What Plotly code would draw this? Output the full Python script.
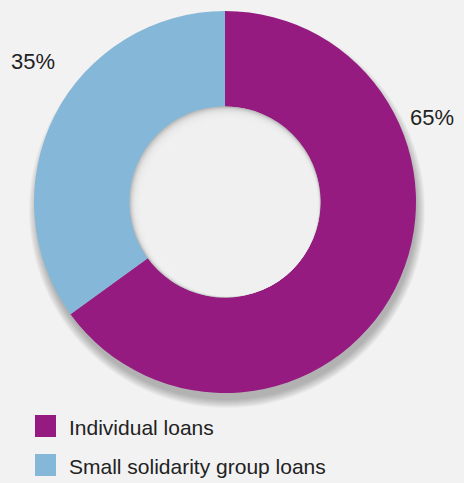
import plotly.graph_objects as go

# Loan portfolio split
labels = ["Individual loans", "Small solidarity group loans"]
values = [65, 35]
colors = ["#951b80", "#84b7d8"]
pct_text = ["65%", "35%"]

W, H = 464, 483
BG = "#f2f2f2"
cx, cy, r = 225, 202, 191  # donut centre / radius in pixels
hole = 0.5
ri = r * hole


def px_x(x):
    return x / W


def px_y(y):
    return 1 - y / H


def circle(x, y, rad, fill, layer="below"):
    return dict(
        type="circle", xref="paper", yref="paper", layer=layer,
        x0=px_x(x - rad), x1=px_x(x + rad),
        y0=px_y(y + rad), y1=px_y(y - rad),
        fillcolor=fill, line=dict(width=0),
    )


fig = go.Figure()
fig.add_trace(go.Pie(
    labels=labels,
    values=values,
    hole=hole,
    sort=False,
    direction="clockwise",
    rotation=0,
    marker=dict(colors=colors, line=dict(width=0)),
    textinfo="none",
    hoverinfo="label+percent",
    showlegend=False,
    domain=dict(x=[px_x(cx - r), px_x(cx + r)], y=[px_y(cy + r), px_y(cy - r)]),
))

shapes = []
# soft drop shadow beneath the ring
for i in range(9):
    shapes.append(circle(cx + 2, cy + 8, r - 1 + i, "rgba(0,0,0,0.03)"))

# inset shadow inside the hole (upper-left edge)
shapes.append(circle(cx, cy, ri, "#bebebe", layer="above"))
for i in range(1, 15):
    t = i * 0.65
    shapes.append(circle(cx + t * 0.6, cy + t * 0.8, ri - t,
                         "rgba(242,242,242,0.3)", layer="above"))

annotations = [
    dict(text=pct_text[1], x=px_x(32.5), y=px_y(61), xref="paper", yref="paper",
         xanchor="center", yanchor="middle", showarrow=False,
         font=dict(size=22, color="#222")),
    dict(text=pct_text[0], x=px_x(432), y=px_y(117), xref="paper", yref="paper",
         xanchor="center", yanchor="middle", showarrow=False,
         font=dict(size=22, color="#222")),
]

# legend: colour squares with labels
leg_y = [426, 465]
for lab, col, yy in zip(labels, colors, leg_y):
    shapes.append(dict(
        type="rect", xref="paper", yref="paper",
        x0=px_x(35), x1=px_x(56), y0=px_y(yy + 11), y1=px_y(yy - 11),
        fillcolor=col, line=dict(width=0),
    ))
    annotations.append(dict(
        text=lab, x=px_x(67), y=px_y(yy + 1), xref="paper", yref="paper",
        xanchor="left", yanchor="middle", showarrow=False,
        font=dict(size=21, color="#222"),
    ))

fig.update_layout(
    width=W, height=H,
    margin=dict(l=0, r=0, t=0, b=0),
    paper_bgcolor=BG,
    plot_bgcolor=BG,
    font=dict(family="Liberation Sans, Arial, sans-serif"),
    shapes=shapes,
    annotations=annotations,
)

fig.write_html("out.html")
